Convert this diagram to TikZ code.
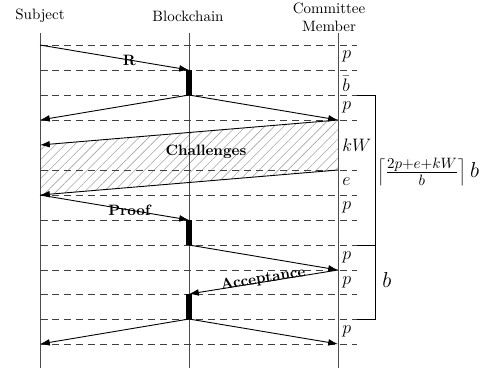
\documentclass[tikz,border=0pt]{standalone}
\usetikzlibrary{arrows.meta,patterns.meta}
\begin{document}
\begin{tikzpicture}[x=0.6667pt,y=-0.6667pt,
  life/.style={draw=black!70,line width=0.6pt},
  gridline/.style={draw=black!75,dash pattern=on 5pt off 3pt,line width=0.5pt},
  msg/.style={-{Latex[length=6.5pt,width=4.5pt]},line width=0.6pt},
  actbar/.style={line width=3.5pt},
  lbl/.style={font=\bfseries,inner sep=1pt},
  seg/.style={anchor=west,inner sep=0pt,font=\large},
  brk/.style={line width=0.6pt}]
\useasboundingbox (0,0) rectangle (487,372);
% headers
\node (hs) at (40,16) {Subject};
\node (hb) at (188,16) {Blockchain};
\node[align=center] (hc) at (329,17) {Committee\\Member};
% coordinates
\foreach \y in {33,45,70,95,120,145,170,195,220,245,270,294,319,344,368}{
  \coordinate (s\y) at (40,\y);
  \coordinate (b\y) at (189,\y);
  \coordinate (c\y) at (338,\y);
  \coordinate (e\y) at (357,\y);
  \coordinate (k\y) at (375,\y);
}
% hatched challenge area
\fill[pattern={Lines[angle=45,distance=4.5pt,line width=0.4pt]},pattern color=black!35]
  (s145) -- (c120) -- (c170) -- (s195) -- cycle;
% lifelines
\draw[life] (s33) -- (s368);
\draw[life] (b33) -- (b368);
\draw[life] (c33) -- (c368);
% dashed grid
\foreach \y in {45,70,95,120,170,195,220,245,270,294,319,344}{
  \draw[gridline] (s\y) -- (e\y);
}
% brackets
\draw[brk] (e95) -- (k95) -- (k245) -- (e245);
\draw[brk] (k245) -- (k319) -- (e319);
\node[anchor=west,inner sep=0pt] (f1) at (377,172) {\Large$\left\lceil\frac{2p+e+kW}{b}\right\rceil b$};
\node[anchor=west,inner sep=0pt] (f2) at (382,280) {\Large$b$};
% activation bars
\draw[actbar] (b70) -- (b95);
\draw[actbar] (b220) -- (b245);
\draw[actbar] (b294) -- (b319);
% messages
\draw[msg] (s45) -- node[lbl,pos=0.6] {R} (b70);
\draw[msg] (b95) -- (s120);
\draw[msg] (b95) -- (c120);
\draw[msg] (c120) -- (s145);
\draw[msg] (c170) -- (s195);
\node[lbl] (ch) at (206,152) {Challenges};
\draw[msg] (s195) -- node[lbl,pos=0.6] {Proof} (b220);
\draw[msg] (b245) -- (c270);
\draw[msg] (c270) -- node[lbl,sloped,pos=0.5,yshift=2pt] {Acceptance} (b294);
\draw[msg] (b319) -- (s344);
\draw[msg] (b319) -- (c344);
% segment labels
\node[seg] at (342,56) {$p$};
\node[seg] at (342,84) {$\bar b$};
\node[seg] at (342,107) {$p$};
\node[seg] at (342,145) {$kW$};
\node[seg] at (342,182) {$e$};
\node[seg] at (342,207) {$p$};
\node[seg] at (342,257) {$p$};
\node[seg] at (342,282) {$p$};
\node[seg] at (342,331) {$p$};
\end{tikzpicture}
\end{document}
